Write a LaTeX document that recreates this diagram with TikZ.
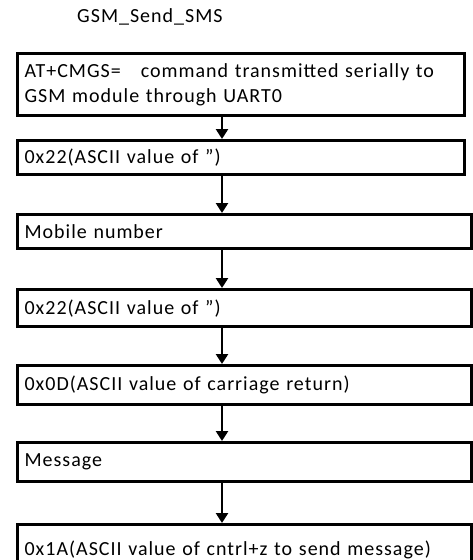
\documentclass[tikz,border=0pt]{standalone}
\usepackage{fontspec}
\setmainfont{Carlito}[LetterSpace=5]
\usetikzlibrary{arrows.meta}
\begin{document}
\begin{tikzpicture}[x=1pt,y=-1pt,
  every node/.style={font=\fontsize{20}{25}\selectfont},
  box/.style={draw, line width=3.2pt, anchor=north west, inner xsep=7pt, inner ysep=0pt, align=left},
  arr/.style={line width=2.8pt, -{Triangle[width=12pt,length=10pt]}}]
\clip (0,0) rectangle (473,560);
\fill[white] (0,0) rectangle (473,560);
\coordinate (ax) at (222,0);
\node[anchor=west, inner sep=0pt] (title) at (77,17) {GSM\_Send\_SMS};
\node[box, minimum width=447pt, minimum height=62pt, text width=433pt] (b1) at (16,52)
  {AT+CMGS=\ \ \ command transmitted serially to\\GSM module through UART0};
\node[box, minimum width=447pt, minimum height=34pt, text width=433pt] (b2) at (16,139)
  {0x22(ASCII value of ”)};
\node[box, minimum width=454pt, minimum height=34pt, text width=440pt] (b3) at (16,213)
  {Mobile number};
\node[box, minimum width=454pt, minimum height=37pt, text width=440pt] (b4) at (16,288)
  {0x22(ASCII value of ”)};
\node[box, minimum width=454pt, minimum height=39pt, text width=440pt] (b5) at (16,364)
  {0x0D(ASCII value of carriage return)};
\node[box, minimum width=454pt, minimum height=39pt, text width=440pt] (b6) at (16,441)
  {Message};
\node[box, minimum width=454pt, minimum height=50pt, text width=440pt] (b7) at (16,523)
  {0x1A(ASCII value of cntrl+z to send message)};
\draw[arr] (b1.south -| ax) -- (b2.north -| ax);
\draw[arr] (b2.south -| ax) -- (b3.north -| ax);
\draw[arr] (b3.south -| ax) -- (b4.north -| ax);
\draw[arr] (b4.south -| ax) -- (b5.north -| ax);
\draw[arr] (b5.south -| ax) -- (b6.north -| ax);
\draw[arr] (b6.south -| ax) -- (b7.north -| ax);
\end{tikzpicture}
\end{document}
